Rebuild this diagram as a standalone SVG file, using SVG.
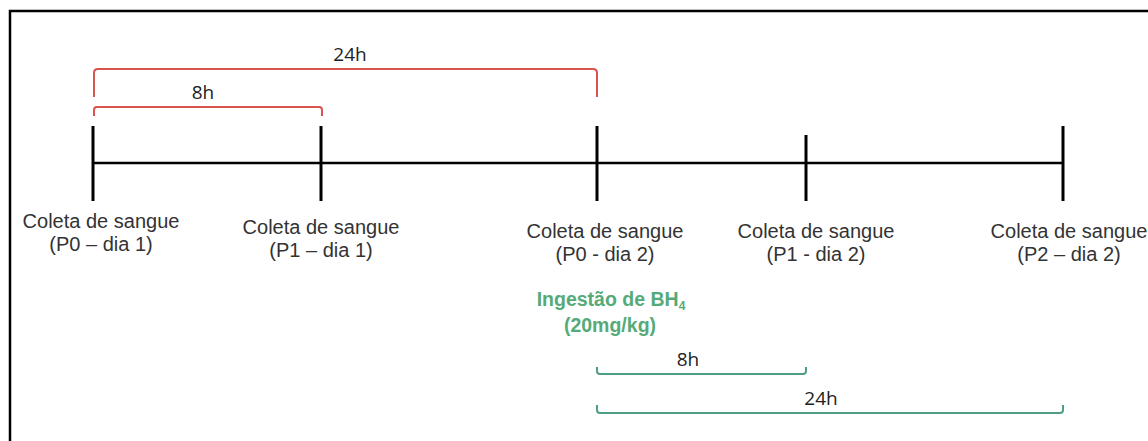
<svg xmlns="http://www.w3.org/2000/svg" width="1148" height="441" viewBox="0 0 1148 441">
<defs>
<style>
.frame{stroke:#000;stroke-width:2.5;fill:none}
.axis{stroke:#000;stroke-width:2.5;fill:none}
.tick{stroke:#000;stroke-width:3;fill:none}
.red{stroke:#d9534f;stroke-width:2;fill:none}
.grn{stroke:#4e9e86;stroke-width:2;fill:none}
.lbl{font-family:"Liberation Sans",Arial,sans-serif;font-size:20px;fill:#333;text-anchor:middle}
.dur{font-family:"Open Sans","DejaVu Sans",sans-serif;font-size:19px;fill:#222;text-anchor:middle}
.drug{font-family:"Liberation Sans",Arial,sans-serif;font-size:19.5px;font-weight:bold;fill:#56aa78;text-anchor:middle}
</style>
</defs>
<rect width="1148" height="441" fill="#fff"/>
<path class="frame" d="M10,441 V11 H1148"/>
<g id="connectors">
<line class="axis" x1="93" y1="163" x2="1063" y2="163"/>
<path class="red" d="M94,97 V73 Q94,69 98,69 H593 Q597,69 597,73 V97"/>
<path class="red" d="M94,116 V110 Q94,107 97,107 H319 Q322,107 322,110 V116"/>
<path class="grn" d="M597,367 V371 Q597,374 600,374 H803 Q806,374 806,371 V367"/>
<path class="grn" d="M597,405 V410 Q597,413 600,413 H1060 Q1063,413 1063,410 V405"/>
<text class="dur" x="350" y="61">24h</text>
<text class="dur" x="203" y="99">8h</text>
<text class="dur" x="688" y="366">8h</text>
<text class="dur" x="821" y="405">24h</text>
</g>
<g id="n1">
<line class="tick" x1="93" y1="126" x2="93" y2="201"/>
<text class="lbl" x="101" y="228">Coleta de sangue</text>
<text class="lbl" x="101" y="251">(P0 – dia 1)</text>
</g>
<g id="n2">
<line class="tick" x1="321" y1="126" x2="321" y2="201"/>
<text class="lbl" x="321" y="234">Coleta de sangue</text>
<text class="lbl" x="321" y="257">(P1 – dia 1)</text>
</g>
<g id="n3">
<line class="tick" x1="597" y1="126" x2="597" y2="201"/>
<text class="lbl" x="605" y="238">Coleta de sangue</text>
<text class="lbl" x="605" y="261">(P0 - dia 2)</text>
</g>
<g id="n4">
<line class="tick" x1="806" y1="135" x2="806" y2="201"/>
<text class="lbl" x="816" y="238">Coleta de sangue</text>
<text class="lbl" x="816" y="261">(P1 - dia 2)</text>
</g>
<g id="n5">
<line class="tick" x1="1063" y1="126" x2="1063" y2="201"/>
<text class="lbl" x="1069" y="238">Coleta de sangue</text>
<text class="lbl" x="1069" y="261">(P2 – dia 2)</text>
</g>
<g id="drug">
<text class="drug" x="611" y="306">Ingestão de BH<tspan font-size="12px" dy="4">4</tspan></text>
<text class="drug" x="610" y="332">(20mg/kg)</text>
</g>
</svg>
